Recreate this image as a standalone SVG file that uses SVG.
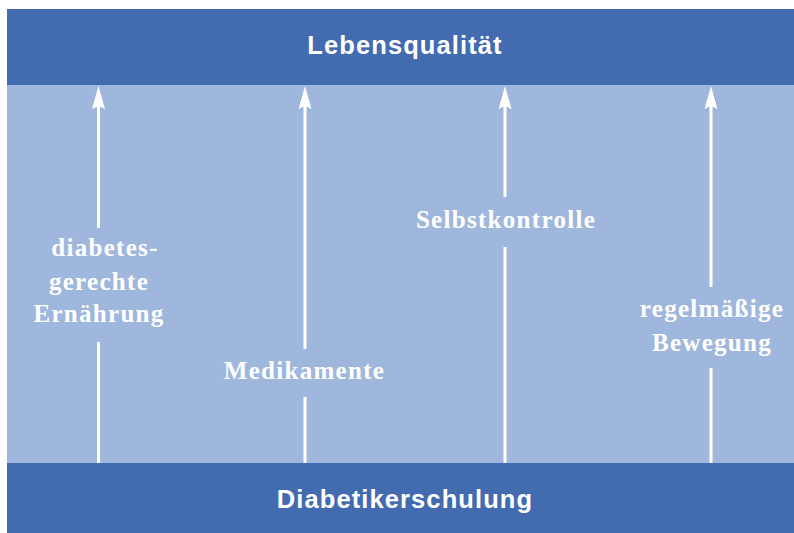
<svg xmlns="http://www.w3.org/2000/svg" width="794" height="533" viewBox="0 0 794 533">
<style>
.dark{fill:#436BAF}
.light{fill:#9FB7DC}
.title{font-family:"Liberation Sans",Arial,sans-serif;font-weight:bold;font-size:25.5px;fill:#fff;text-anchor:middle;letter-spacing:1.1px}
.lbl{font-family:"Liberation Serif","Times New Roman",serif;font-weight:bold;font-size:25px;fill:#fff;text-anchor:middle;letter-spacing:1.3px}
.shaft{stroke:#fff;stroke-width:3;fill:none}
.head{fill:#fff}
</style>
<rect width="794" height="533" fill="#fff"/>
<rect class="light" x="7" y="84" width="787" height="380"/>
<g id="top">
<rect class="dark" x="7" y="9" width="787" height="76"/>
<text class="title" x="405" y="54">Lebensqualität</text>
</g>
<g id="bottom">
<rect class="dark" x="7" y="463" width="787" height="70"/>
<text class="title" x="405" y="508">Diabetikerschulung</text>
</g>
<g id="connectors">
<path class="shaft" d="M98.5,105V228M98.5,342V463"/>
<path class="head" d="M98.5,86L105,109L98.5,106L92,109Z"/>
<path class="shaft" d="M305,105V349M305,397V463"/>
<path class="head" d="M305,86L311.5,109L305,106L298.5,109Z"/>
<path class="shaft" d="M505,105V197M505,247V463"/>
<path class="head" d="M505,86L511.5,109L505,106L498.5,109Z"/>
<path class="shaft" d="M711,105V287M711,368V463"/>
<path class="head" d="M711,86L717.5,109L711,106L704.5,109Z"/>
</g>
<g id="n1">
<text class="lbl" x="105" y="256">diabetes-</text>
<text class="lbl" x="99" y="290">gerechte</text>
<text class="lbl" x="99" y="322">Ernährung</text>
</g>
<g id="n2"><text class="lbl" x="304.5" y="379">Medikamente</text></g>
<g id="n3"><text class="lbl" x="506" y="228">Selbstkontrolle</text></g>
<g id="n4">
<text class="lbl" x="712" y="317">regelmäßige</text>
<text class="lbl" x="712" y="351">Bewegung</text>
</g>
</svg>
